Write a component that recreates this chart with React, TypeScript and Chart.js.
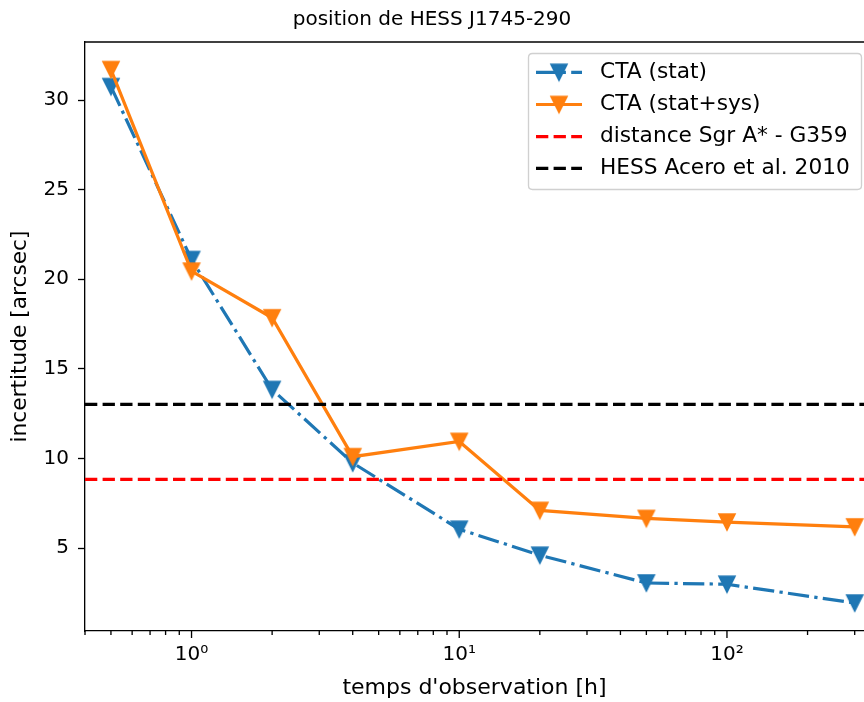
import React, { useEffect, useRef } from 'react';
import { Chart, registerables } from 'chart.js';

Chart.register(...registerables);

// ---- data ----
const hours = [0.5, 1, 2, 4, 10, 20, 50, 100, 300];
const statErr = [30.75, 21.1, 13.85, 9.75, 6.05, 4.6, 3.05, 2.98, 1.93];
const statSysErr = [31.7, 20.45, 17.85, 10.1, 10.95, 7.1, 6.65, 6.45, 6.18];
const sgrDistance = 8.83;
const hessAcero = 13.02;
const xLimits = [0.4, 325];
const yLimits = [0.37, 33.24];
const yTicks = [5, 10, 15, 20, 25, 30];
const seriesLabels = ['CTA (stat)', 'CTA (stat+sys)', 'distance Sgr A* - G359', 'HESS Acero et al. 2010'];
const titleText = 'position de HESS J1745-290';
const xTitle = "temps d'observation [h]";
const yTitle = 'incertitude [arcsec]';

const FONT = 'DejaVu Sans';
const BLUE = '#1f77b4';
const ORANGE = '#ff7f0e';
const LW = 3.2;
const DASHDOT = [21.3, 5.3, 3.3, 5.3];
const DASHED = [12.3, 5.3];
const SUP: Record<string, string> = { '-1': '⁻¹', '0': '⁰', '1': '¹', '2': '²', '3': '³' };

function triangleDown(color: string): HTMLCanvasElement {
  const s = 26;
  const c = document.createElement('canvas');
  c.width = s;
  c.height = s;
  const g = c.getContext('2d')!;
  const h = 8;
  g.beginPath();
  g.moveTo(s / 2 - h, s / 2 - h);
  g.lineTo(s / 2 + h, s / 2 - h);
  g.lineTo(s / 2, s / 2 + h);
  g.closePath();
  g.fillStyle = color;
  g.fill();
  g.strokeStyle = color;
  g.lineWidth = 1.6;
  g.lineJoin = 'miter';
  g.stroke();
  return c;
}

export default function App() {
  const ref = useRef<HTMLCanvasElement | null>(null);

  useEffect(() => {
    if (!ref.current) return;
    const blueMarker = triangleDown(BLUE);
    const orangeMarker = triangleDown(ORANGE);

    const decorations = {
      id: 'decorations',
      afterDraw(chart: any) {
        const { ctx, chartArea } = chart;
        const xs = chart.scales.x;
        ctx.save();
        // top spine
        ctx.strokeStyle = '#000';
        ctx.lineWidth = 1.33;
        ctx.beginPath();
        ctx.moveTo(chartArea.left - 0.7, chartArea.top);
        ctx.lineTo(chartArea.right, chartArea.top);
        ctx.stroke();
        // x tick marks (major / minor)
        xs.ticks.forEach((t: any) => {
          const px = xs.getPixelForValue(t.value);
          if (px < chartArea.left - 1 || px > chartArea.right + 1) return;
          const e = Math.log10(t.value);
          const major = Math.abs(e - Math.round(e)) < 1e-9;
          const len = major ? 7 : 4;
          ctx.beginPath();
          ctx.moveTo(px, chartArea.bottom);
          ctx.lineTo(px, chartArea.bottom + len);
          ctx.stroke();
        });
        // legend
        const bx = 528.5, by = 53.5, bw = 333, bh = 136, r = 4;
        ctx.beginPath();
        ctx.moveTo(bx + r, by);
        ctx.lineTo(bx + bw - r, by);
        ctx.quadraticCurveTo(bx + bw, by, bx + bw, by + r);
        ctx.lineTo(bx + bw, by + bh - r);
        ctx.quadraticCurveTo(bx + bw, by + bh, bx + bw - r, by + bh);
        ctx.lineTo(bx + r, by + bh);
        ctx.quadraticCurveTo(bx, by + bh, bx, by + bh - r);
        ctx.lineTo(bx, by + r);
        ctx.quadraticCurveTo(bx, by, bx + r, by);
        ctx.closePath();
        ctx.fillStyle = 'rgba(255,255,255,0.8)';
        ctx.fill();
        ctx.strokeStyle = '#d0d0d0';
        ctx.lineWidth = 1.33;
        ctx.stroke();
        const rowY = [72.3, 104.5, 136.7, 168.3];
        chart.data.datasets.forEach((ds: any, i: number) => {
          const y = rowY[i];
          ctx.strokeStyle = ds.borderColor;
          ctx.lineWidth = ds.borderWidth;
          ctx.setLineDash(ds.borderDash || []);
          ctx.lineDashOffset = 0;
          ctx.beginPath();
          ctx.moveTo(536, y);
          ctx.lineTo(582, y);
          ctx.stroke();
          ctx.setLineDash([]);
          if (ds.pointStyle && typeof ds.pointStyle !== 'string') {
            const m = ds.pointStyle as HTMLCanvasElement;
            ctx.drawImage(m, 559 - m.width / 2, y - m.height / 2);
          }
          ctx.fillStyle = '#000';
          ctx.font = `21.7px "${FONT}"`;
          ctx.textAlign = 'left';
          ctx.textBaseline = 'middle';
          ctx.fillText(ds.label, 600, y);
        });
        ctx.restore();
      },
    };

    const tickFont = { family: FONT, size: 20, weight: 'normal' as const };
    const labelFont = { family: FONT, size: 21.7, weight: 'normal' as const };
    const xLabelFont = { family: FONT, size: 22, weight: 'normal' as const };
    const titleFont = { family: FONT, size: 20, weight: 'normal' as const };

    const chart = new Chart(ref.current, {
      type: 'line',
      data: {
        datasets: [
          {
            label: seriesLabels[0],
            data: hours.map((x, i) => ({ x, y: statErr[i] })),
            borderColor: BLUE,
            backgroundColor: BLUE,
            borderWidth: LW,
            borderDash: DASHDOT,
            pointStyle: blueMarker as any,
            pointRadius: 9,
            tension: 0,
            order: 4,
          },
          {
            label: seriesLabels[1],
            data: hours.map((x, i) => ({ x, y: statSysErr[i] })),
            borderColor: ORANGE,
            backgroundColor: ORANGE,
            borderWidth: LW,
            pointStyle: orangeMarker as any,
            pointRadius: 9,
            tension: 0,
            order: 3,
          },
          {
            label: seriesLabels[2],
            data: xLimits.map((x) => ({ x, y: sgrDistance })),
            borderColor: '#ff0000',
            backgroundColor: '#ff0000',
            borderWidth: LW,
            borderDash: DASHED,
            pointRadius: 0,
            order: 2,
          },
          {
            label: seriesLabels[3],
            data: xLimits.map((x) => ({ x, y: hessAcero })),
            borderColor: '#000000',
            backgroundColor: '#000000',
            borderWidth: LW,
            borderDash: DASHED,
            pointRadius: 0,
            order: 1,
          },
        ],
      },
      options: {
        animation: false,
        responsive: false,
        layout: { autoPadding: false, padding: { left: 0, right: 0, top: 0, bottom: 0 } },
        plugins: {
          legend: { display: false },
          tooltip: { enabled: false },
          title: {
            display: true,
            text: titleText,
            color: '#000',
            font: titleFont,
            padding: { top: 8, bottom: 10 },
          },
        },
        scales: {
          x: {
            type: 'logarithmic',
            min: xLimits[0],
            max: xLimits[1],
            afterBuildTicks: (scale: any) => {
              const t: any[] = [];
              for (let e = -1; e <= 3; e++) {
                for (let m = 1; m <= 9; m++) {
                  const v = parseFloat((m * Math.pow(10, e)).toPrecision(6));
                  if (v >= xLimits[0] && v <= xLimits[1]) t.push({ value: v });
                }
              }
              scale.ticks = t;
            },
            afterFit: (scale: any) => {
              scale.height = 71;
              scale.paddingLeft = 0;
              scale.paddingRight = 0;
            },
            grid: { display: false, drawTicks: true, tickLength: 7 },
            border: { display: true, color: '#000', width: 1.33 },
            ticks: {
              autoSkip: false,
              maxRotation: 0,
              minRotation: 0,
              padding: 5,
              color: '#000',
              font: tickFont,
              callback: (v: any) => {
                const e = Math.log10(Number(v));
                const re = Math.round(e);
                return Math.abs(e - re) < 1e-9 ? '10' + (SUP[String(re)] || '') : '';
              },
            },
            title: {
              display: true,
              text: xTitle,
              color: '#000',
              font: xLabelFont,
              padding: { top: 0, bottom: 1 },
            },
          },
          y: {
            type: 'linear',
            min: yLimits[0],
            max: yLimits[1],
            afterBuildTicks: (scale: any) => {
              scale.ticks = yTicks.map((v) => ({ value: v }));
            },
            afterFit: (scale: any) => {
              scale.width = 85;
              scale.paddingTop = 0;
              scale.paddingBottom = 0;
            },
            grid: {
              drawOnChartArea: false,
              drawTicks: true,
              tickLength: 7,
              tickColor: '#000',
              tickWidth: 1.33,
            },
            border: { display: true, color: '#000', width: 1.33 },
            ticks: {
              padding: 9,
              color: '#000',
              font: tickFont,
              callback: (v: any) => String(v),
            },
            title: {
              display: true,
              text: yTitle,
              color: '#000',
              font: labelFont,
              padding: { top: 7, bottom: 0 },
            },
          },
        },
      },
      plugins: [decorations],
    } as any);

    return () => chart.destroy();
  }, []);

  return (
    <div style={{ position: 'absolute', left: 0, top: 0, width: 864, height: 702, background: '#fff' }}>
      <canvas ref={ref} width={864} height={702} style={{ display: 'block' }} />
    </div>
  );
}
